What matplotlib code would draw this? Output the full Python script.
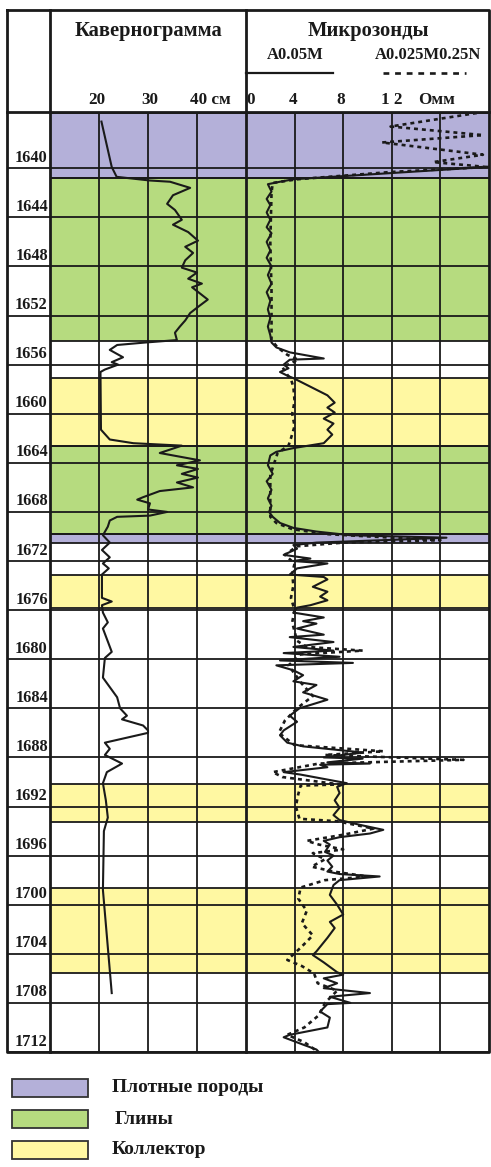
import matplotlib
matplotlib.use("Agg")
import matplotlib.pyplot as plt
from matplotlib.patches import Rectangle

# ---------------- data ----------------
depth_ticks = [1640, 1644, 1648, 1652, 1656, 1660, 1664, 1668, 1672, 1676,
               1680, 1684, 1688, 1692, 1696, 1700, 1704, 1708, 1712]
depth_top = 1635.5
depth_bottom = 1712.0

# lithology intervals (top, bottom, class)
litho_top = [1635.5, 1640.8, 1657.1, 1662.6, 1669.8, 1673.1, 1690.2, 1698.6]
litho_bot = [1640.8, 1654.1, 1662.6, 1669.8, 1670.5, 1675.8, 1693.3, 1705.6]
litho_cls = ["dense", "clay", "coll", "clay", "dense", "coll", "coll", "coll"]

cal_ticks = [20, 30, 40]
mic_ticks = [4, 8, 12, 16]

# caliper (cm)
cal_depth = [1636.2, 1639.9, 1640.7, 1641.0, 1641.1, 1641.6, 1642.2, 1642.9, 1643.4,
             1644.2, 1644.6, 1645.2, 1645.9, 1646.4, 1646.9, 1647.5, 1648.1, 1648.5,
             1649.0, 1649.4, 1649.7, 1650.2, 1650.7, 1651.3, 1651.8, 1652.4, 1652.9,
             1653.4, 1654.0, 1654.2, 1654.4, 1654.8, 1655.4, 1655.8, 1656.0, 1656.4,
             1656.6, 1661.3, 1662.1, 1662.4, 1662.6, 1663.2, 1663.8, 1664.2, 1664.5,
             1664.9, 1665.2, 1665.6, 1666.0, 1666.3, 1666.8, 1667.0, 1667.3, 1667.8,
             1668.0, 1668.3, 1668.4, 1668.7, 1669.2, 1669.9, 1670.5, 1671.1, 1671.7,
             1672.2, 1672.6, 1673.1, 1675.0, 1675.3, 1675.6, 1676.2, 1677.0, 1677.5,
             1679.4, 1679.9, 1681.5, 1683.1, 1684.0, 1684.6, 1684.9, 1685.4, 1685.8,
             1686.0, 1686.8, 1687.3, 1687.8, 1688.5, 1689.2, 1690.1, 1691.5, 1692.9,
             1694.0, 1698.8, 1707.2]
cal_value = [20.5, 22.6, 23.6, 30.4, 34.5, 38.6, 35.1, 33.9, 35.5,
             36.9, 35.1, 38.2, 40.2, 37.6, 39.2, 37.6, 36.9, 40.0,
             38.2, 41.0, 39.0, 40.6, 42.2, 40.2, 38.6, 37.6, 36.5,
             35.5, 35.9, 29.4, 23.7, 22.2, 24.9, 22.6, 23.9, 21.2,
             20.3, 20.4, 22.2, 27.0, 36.9, 32.4, 40.6, 35.9, 40.2,
             36.9, 40.2, 35.9, 39.2, 32.4, 29.0, 27.8, 30.4, 30.0,
             33.9, 30.4, 23.7, 22.2, 21.8, 20.8, 22.2, 20.6, 22.2,
             20.8, 22.0, 20.6, 20.6, 22.6, 20.6, 20.8, 21.8, 20.8,
             22.6, 21.2, 20.8, 23.7, 24.3, 25.7, 24.7, 29.0, 30.0,
             30.0, 21.2, 22.2, 21.2, 24.7, 21.6, 20.8, 21.4, 21.8,
             21.0, 20.8, 22.6]

# microlog A0.05M (solid), Ohm*m
mA_depth = [1639.6, 1639.9, 1640.9, 1641.1, 1641.3, 1641.9, 1642.5, 1643.0, 1643.6,
            1644.2, 1644.8, 1645.3, 1646.0, 1646.7, 1647.3, 1648.0, 1648.7, 1649.4,
            1650.1, 1650.8, 1651.5, 1652.2, 1652.9, 1653.6, 1654.2, 1654.6, 1655.0,
            1655.5, 1655.6, 1656.0, 1656.3, 1656.6, 1656.9, 1657.1, 1658.5, 1659.1,
            1659.5, 1659.9, 1660.4, 1660.8, 1661.3, 1661.7, 1662.1, 1662.4, 1662.8,
            1663.1, 1663.4, 1664.2, 1664.9, 1665.5, 1666.2, 1666.9, 1667.5, 1668.0,
            1668.4, 1668.9, 1669.3, 1669.6, 1669.9, 1670.1, 1670.3, 1670.5, 1670.7,
            1671.0, 1671.5, 1671.8, 1672.0, 1672.2, 1672.6, 1673.1, 1673.3, 1673.5,
            1674.1, 1674.5, 1674.9, 1675.2, 1675.6, 1675.8, 1676.2, 1676.6, 1676.9,
            1677.1, 1677.5, 1678.0, 1678.2, 1678.6, 1679.0, 1679.3, 1679.5, 1679.8,
            1680.1, 1680.3, 1680.5, 1680.9, 1681.3, 1681.8, 1682.1, 1682.7, 1683.3,
            1684.0, 1684.6, 1685.1, 1685.8, 1686.2, 1686.8, 1687.1, 1687.6, 1688.0,
            1688.1, 1688.4, 1688.5, 1688.6, 1688.8, 1689.2, 1689.4, 1690.1, 1690.4,
            1690.9, 1691.5, 1692.1, 1692.7, 1693.1, 1693.5, 1693.9, 1694.2, 1694.5,
            1694.8, 1695.1, 1695.7, 1696.0, 1696.4, 1696.9, 1697.3, 1697.5, 1697.7,
            1698.0, 1698.4, 1699.2, 1700.0, 1700.8, 1701.4, 1701.9, 1702.7, 1703.8,
            1704.1, 1704.7, 1705.5, 1705.7, 1706.0, 1706.4, 1706.8, 1707.2, 1707.5,
            1708.0, 1708.1, 1708.7, 1709.2, 1710.0, 1710.6, 1710.8, 1711.4, 1711.8,
            1712.0]
mA_value = [21.0, 19.8, 3.9, 2.8, 1.8, 2.1, 1.7, 2.0, 1.7,
            2.0, 1.7, 2.1, 1.7, 2.0, 1.7, 2.1, 1.8, 2.1,
            1.7, 2.0, 1.8, 2.0, 1.8, 2.0, 2.1, 2.5, 3.6,
            6.4, 3.6, 3.1, 3.5, 2.8, 3.4, 3.9, 6.7, 7.3,
            6.7, 7.3, 6.4, 7.2, 6.7, 7.1, 6.7, 6.4, 3.9,
            2.5, 2.0, 1.8, 2.2, 1.7, 2.1, 1.8, 2.1, 1.9,
            2.2, 2.8, 3.9, 5.8, 8.6, 16.5, 11.3, 5.8, 3.9,
            4.2, 3.1, 5.3, 3.9, 6.7, 4.2, 3.6, 6.4, 6.7,
            5.5, 6.7, 6.1, 6.7, 5.3, 4.2, 3.9, 6.4, 4.7,
            5.8, 4.2, 6.4, 3.6, 7.2, 3.9, 7.2, 3.1, 7.7,
            2.8, 8.8, 2.5, 3.9, 4.7, 3.9, 5.8, 4.7, 6.7,
            4.4, 3.6, 4.2, 3.1, 2.8, 3.4, 4.7, 9.6, 6.4,
            9.6, 6.7, 10.2, 6.1, 6.7, 3.1, 4.5, 8.3, 7.5,
            7.7, 7.3, 7.7, 7.2, 7.7, 9.4, 11.3, 10.2, 7.7,
            6.4, 6.9, 6.5, 7.2, 6.7, 7.1, 6.7, 7.7, 11.0,
            7.7, 7.2, 6.9, 7.5, 8.0, 6.9, 7.3, 6.7, 5.8,
            5.5, 6.4, 7.5, 8.0, 6.4, 7.5, 6.4, 10.2, 6.9,
            8.6, 6.7, 6.1, 6.9, 6.7, 3.6, 3.1, 4.7, 5.8,
            6.0]

# microlog A0.025M0.25N (dashed), Ohm*m
mB_depth = [1635.5, 1636.6, 1637.3, 1637.9, 1638.9, 1639.5, 1639.9, 1640.3, 1640.9,
            1641.2, 1642.0, 1646.0, 1650.0, 1654.0, 1654.6, 1655.2, 1655.6, 1656.2,
            1656.7, 1657.2, 1657.8, 1659.0, 1660.0, 1661.0, 1662.0, 1662.6, 1663.2,
            1665.0, 1668.4, 1668.9, 1669.4, 1669.8, 1670.1, 1670.3, 1670.5, 1670.8,
            1671.5, 1672.2, 1673.0, 1674.0, 1675.0, 1676.0, 1677.0, 1678.5, 1679.0,
            1679.3, 1679.6, 1680.5, 1682.0, 1683.0, 1684.0, 1685.0, 1686.0, 1687.0,
            1687.5, 1687.8, 1688.2, 1688.5, 1689.2, 1689.6, 1690.2, 1690.3, 1691.0,
            1692.0, 1693.0, 1693.2, 1693.8, 1694.3, 1694.8, 1695.1, 1695.5, 1695.8,
            1696.3, 1696.9, 1697.3, 1697.7, 1698.0, 1698.6, 1699.5, 1700.5, 1701.5,
            1702.5, 1703.5, 1704.5, 1705.0, 1705.6, 1706.4, 1707.0, 1708.0, 1709.0,
            1710.0, 1710.6, 1711.2, 1711.9]
mB_value = [19.0, 11.9, 19.5, 11.2, 19.5, 15.4, 19.8, 12.0, 4.2,
            2.2, 2.1, 2.0, 2.1, 2.1, 2.6, 3.4, 4.3, 3.0,
            3.3, 3.7, 3.9, 4.0, 3.8, 4.0, 3.7, 3.5, 2.6,
            2.0, 2.0, 2.5, 3.8, 6.5, 12.0, 16.0, 8.0, 4.2,
            3.2, 4.0, 3.8, 3.9, 3.7, 4.0, 3.8, 4.2, 5.0,
            9.6, 4.5, 3.5, 4.6, 5.5, 4.2, 3.2, 2.7, 4.0,
            11.3, 6.5, 17.9, 6.0, 2.2, 3.0, 7.7, 4.5, 4.3,
            4.1, 4.4, 7.5, 10.5, 8.0, 5.0, 6.0, 8.0, 5.5,
            6.5, 5.4, 7.2, 10.0, 6.5, 4.5, 4.3, 5.0, 4.6,
            5.5, 4.5, 3.4, 4.6, 5.6, 5.9, 7.5, 6.5, 6.0,
            4.8, 3.4, 4.8, 5.8]

legend_labels = ["Плотные породы", "Глины", "Коллектор"]

# ---------------- style ----------------
W, H = 491, 1167
colors = {"dense": "#b4b0d9", "clay": "#b6db7f", "coll": "#fff8a2"}
legend_cls = ["dense", "clay", "coll"]
INK = "#1a1a1a"
FONT = dict(family="Liberation Serif", weight="bold", color=INK)

fig = plt.figure(figsize=(W / 100, H / 100), dpi=100)


def rect(x0, y0, x1, y1):
    return [x0 / W, 1 - y1 / H, (x1 - x0) / W, (y1 - y0) / H]


X_L, X_D, X_C, X_R = 7, 50, 246, 489
Y_T, Y_H, Y_B = 10, 113, 1052

ax_d = fig.add_axes(rect(X_L, Y_H, X_D, Y_B))
ax_c = fig.add_axes(rect(X_D, Y_H, X_C, Y_B))
ax_m = fig.add_axes(rect(X_C, Y_H, X_R, Y_B))

for ax in (ax_d, ax_c, ax_m):
    ax.set_ylim(depth_bottom, depth_top)
    ax.set_xticks([])
    ax.set_yticks([])
    for s in ax.spines.values():
        s.set_visible(False)
    ax.patch.set_alpha(0)

ax_c.set_xlim(10, 50)
ax_m.set_xlim(0, 20)
ax_d.set_xlim(0, 1)

GRID_LW = 1.3
# lithology fills and boundary lines
for ax in (ax_c, ax_m):
    for t, b, c in zip(litho_top, litho_bot, litho_cls):
        ax.axhspan(t, b, color=colors[c], lw=0, zorder=0)
        for yb in (t, b):
            ax.axhline(yb, color=INK, lw=GRID_LW, zorder=1)

# depth grid lines across all columns
for ax in (ax_d, ax_c, ax_m):
    for d in depth_ticks:
        ax.axhline(d, color=INK, lw=GRID_LW, zorder=1)

for v in cal_ticks:
    ax_c.axvline(v, color=INK, lw=GRID_LW, zorder=1)
for v in mic_ticks:
    ax_m.axvline(v, color=INK, lw=GRID_LW, zorder=1)

# depth labels
for d in depth_ticks:
    ax_d.text(0.95, d - 0.2, str(d), ha="right", va="bottom", fontsize=11.8, **FONT)

# curves
ax_c.plot(cal_value, cal_depth, color=INK, lw=1.5, zorder=3)
ax_m.plot(mB_value, mB_depth, color=INK, lw=1.9, ls=(0, (1.5, 1.5)), zorder=3)
ax_m.plot(mA_value, mA_depth, color=INK, lw=1.5, zorder=4)

# ---------------- overlay: frame, header, legend ----------------
ov = fig.add_axes([0, 0, 1, 1])
ov.set_xlim(0, W)
ov.set_ylim(H, 0)
ov.axis("off")
ov.patch.set_alpha(0)

thick = 2.0
ov.plot([X_L, X_R, X_R, X_L, X_L], [Y_T, Y_T, Y_B, Y_B, Y_T], color=INK, lw=thick)
ov.plot([X_L, X_R], [Y_H - 1, Y_H - 1], color=INK, lw=thick)
ov.plot([X_D, X_D], [Y_T, Y_B], color=INK, lw=thick)
ov.plot([X_C, X_C], [Y_T, Y_B], color=INK, lw=thick)

ov.text(148, 31, "Кавернограмма", ha="center", va="center", fontsize=14.8, **FONT)
ov.text(368, 31, "Микрозонды", ha="center", va="center", fontsize=14.8, **FONT)
ov.text(295, 55, "A0.05M", ha="center", va="center", fontsize=12, **FONT)
ov.text(428, 55, "A0.025M0.25N", ha="center", va="center", fontsize=12, **FONT)
ov.plot([X_C, 333], [73, 73], color=INK, lw=1.6)
ov.plot([383, 466], [73, 73], color=INK, lw=1.9, ls=(0, (2.2, 2.2)))

for txt, xp in [("20", 97), ("30", 150), ("40 см", 210)]:
    ov.text(xp, 100, txt, ha="center", va="center", fontsize=12.3, **FONT)
for txt, xp in [("0", 251), ("4", 293), ("8", 341), ("1 2", 392), ("Омм", 437)]:
    ov.text(xp, 100, txt, ha="center", va="center", fontsize=12.3, **FONT)

leg_y = [1088, 1119, 1150]
leg_x = [112, 115, 112]
for cls, lab, yc, xt in zip(legend_cls, legend_labels, leg_y, leg_x):
    ov.add_patch(Rectangle((12, yc - 9), 76, 18, facecolor=colors[cls],
                           edgecolor="#333333", lw=1.3))
    ov.text(xt, yc, lab, ha="left", va="center", fontsize=14, **FONT)

fig.savefig("out.png", dpi=100)
